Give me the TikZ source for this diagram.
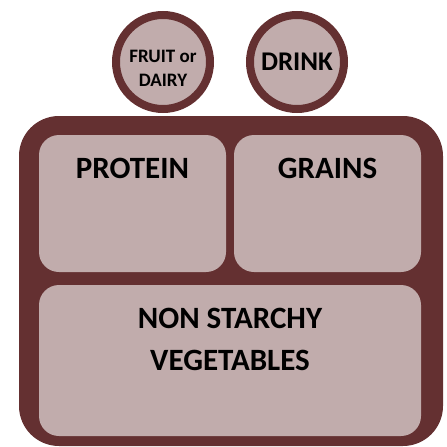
\documentclass[tikz,border=0pt]{standalone}
\usepackage{fontspec}
\setmainfont{Carlito}
\definecolor{traybrown}{HTML}{643031}
\definecolor{traypink}{HTML}{C1ACAC}

\begin{document}
\begin{tikzpicture}[x=1pt,y=-1pt,
  tray/.style={fill=traybrown,rounded corners=40pt},
  well/.style={fill=traypink,rounded corners=20pt},
  cup/.style={circle,draw=traybrown,fill=traypink,line width=8pt,minimum size=94pt,inner sep=0pt},
  lbl/.style={anchor=center,inner sep=0pt,align=center,font=\bfseries\fontsize{31}{42}\selectfont}]
\path[use as bounding box] (0,0) rectangle (447,447);
\fill[tray] (19,116) rectangle (443,446);
\fill[well] (39,135) rectangle (226,272);
\fill[well] (234,135) rectangle (421,272);
\fill[well] (39,285) rectangle (421,436);
\node[cup] (fruit) at (163,62) {};
\node[cup] (drink) at (297,62) {};
\node[lbl,font=\bfseries\fontsize{19}{24}\selectfont] (fruittxt) at (163,68) {FRUIT or\\DAIRY};
\node[lbl,font=\bfseries\fontsize{27}{30}\selectfont] (drinktxt) at (297,62) {DRINK};
\node[lbl] (protein) at (132.5,168) {PROTEIN};
\node[lbl] (grains) at (327.5,168) {GRAINS};
\node[lbl] (veg) at (230,339) {NON STARCHY\\VEGETABLES};
\end{tikzpicture}
\end{document}
